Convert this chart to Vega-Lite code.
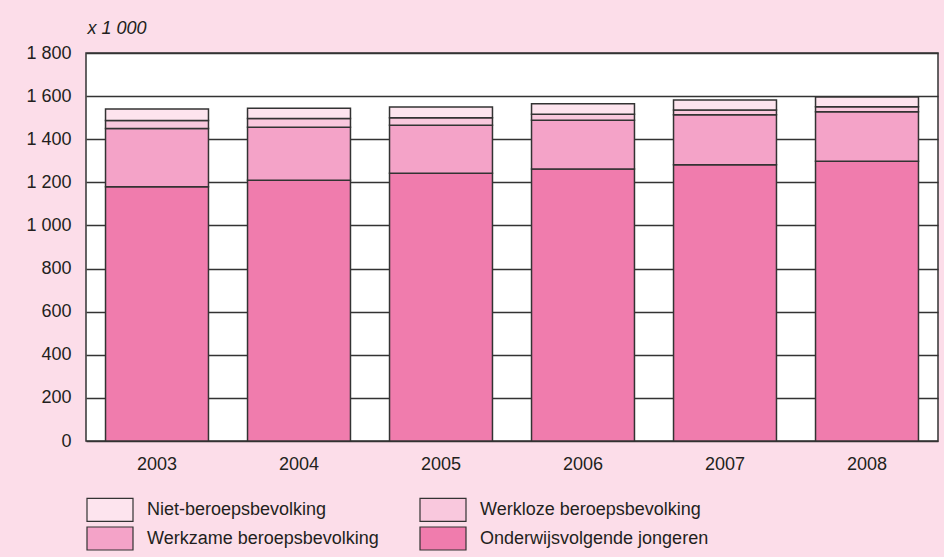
{
  "$schema": "https://vega.github.io/schema/vega-lite/v6.json",
  "autosize": "none",
  "width": 852,
  "height": 388,
  "padding": {"left": 86, "top": 53, "right": 6, "bottom": 116},
  "background": "#fcdde9",
  "config": {
    "font": "Liberation Sans",
    "view": {"fill": "white", "stroke": "#333333", "strokeWidth": 1.5},
    "axis": {"labelColor": "#231f20", "titleColor": "#231f20", "labelFontSize": 18}
  },
  "data": {
    "values": [
      {"jaar": "2003", "positie": "Onderwijsvolgende jongeren", "aantal": 1179},
      {"jaar": "2003", "positie": "Werkzame beroepsbevolking", "aantal": 271},
      {"jaar": "2003", "positie": "Werkloze beroepsbevolking", "aantal": 37},
      {"jaar": "2003", "positie": "Niet-beroepsbevolking", "aantal": 53},
      {"jaar": "2004", "positie": "Onderwijsvolgende jongeren", "aantal": 1210},
      {"jaar": "2004", "positie": "Werkzame beroepsbevolking", "aantal": 246},
      {"jaar": "2004", "positie": "Werkloze beroepsbevolking", "aantal": 40},
      {"jaar": "2004", "positie": "Niet-beroepsbevolking", "aantal": 48},
      {"jaar": "2005", "positie": "Onderwijsvolgende jongeren", "aantal": 1242},
      {"jaar": "2005", "positie": "Werkzame beroepsbevolking", "aantal": 223},
      {"jaar": "2005", "positie": "Werkloze beroepsbevolking", "aantal": 35},
      {"jaar": "2005", "positie": "Niet-beroepsbevolking", "aantal": 50},
      {"jaar": "2006", "positie": "Onderwijsvolgende jongeren", "aantal": 1262},
      {"jaar": "2006", "positie": "Werkzame beroepsbevolking", "aantal": 226},
      {"jaar": "2006", "positie": "Werkloze beroepsbevolking", "aantal": 28},
      {"jaar": "2006", "positie": "Niet-beroepsbevolking", "aantal": 49},
      {"jaar": "2007", "positie": "Onderwijsvolgende jongeren", "aantal": 1282},
      {"jaar": "2007", "positie": "Werkzame beroepsbevolking", "aantal": 231},
      {"jaar": "2007", "positie": "Werkloze beroepsbevolking", "aantal": 23},
      {"jaar": "2007", "positie": "Niet-beroepsbevolking", "aantal": 46},
      {"jaar": "2008", "positie": "Onderwijsvolgende jongeren", "aantal": 1298},
      {"jaar": "2008", "positie": "Werkzame beroepsbevolking", "aantal": 230},
      {"jaar": "2008", "positie": "Werkloze beroepsbevolking", "aantal": 23},
      {"jaar": "2008", "positie": "Niet-beroepsbevolking", "aantal": 45}
    ]
  },
  "transform": [
    {"calculate": "indexof(['Onderwijsvolgende jongeren','Werkzame beroepsbevolking','Werkloze beroepsbevolking','Niet-beroepsbevolking'], datum.positie)", "as": "volgorde"}
  ],
  "mark": {"type": "bar", "stroke": "#333333", "strokeWidth": 1.5},
  "encoding": {
    "x": {
      "field": "jaar", "type": "nominal",
      "scale": {"paddingInner": 0.275, "paddingOuter": 0.1375},
      "axis": {"title": null, "labelAngle": 0, "ticks": false, "domain": false, "labelPadding": 14, "labelFontSize": 18}
    },
    "y": {
      "field": "aantal", "type": "quantitative", "stack": "zero",
      "scale": {"domain": [0, 1800], "nice": false},
      "axis": {
        "values": [0, 200, 400, 600, 800, 1000, 1200, 1400, 1600, 1800],
        "labelExpr": "replace(format(datum.value, ','), ',', ' ')",
        "labelFontSize": 18,
        "ticks": false, "domain": false, "labelPadding": 15,
        "grid": true, "gridColor": "#333333", "gridWidth": 1.3, "gridOpacity": 1,
        "title": "x 1 000", "titleAngle": 0, "titleAlign": "left", "titleBaseline": "middle",
        "titleX": 1, "titleY": -25, "titleFontStyle": "italic", "titleFontWeight": "normal", "titleFontSize": 18
      }
    },
    "color": {
      "field": "positie", "type": "nominal",
      "scale": {
        "domain": ["Niet-beroepsbevolking", "Werkloze beroepsbevolking", "Werkzame beroepsbevolking", "Onderwijsvolgende jongeren"],
        "range": ["#fde4ee", "#f9c8dd", "#f4a3c8", "#f07cad"]
      },
      "legend": {
        "title": null, "orient": "none", "legendX": 11.5, "legendY": 444, "padding": 0,
        "direction": "horizontal",
        "columns": 2, "columnPadding": 38, "rowPadding": 0,
        "symbolType": "M-2,-1H2V1H-2Z", "symbolSize": 529,
        "symbolStrokeColor": "#333333", "symbolStrokeWidth": 1.2, "symbolOpacity": 1,
        "labelFontSize": 18, "labelColor": "#231f20", "labelOffset": 24.5, "labelLimit": 400
      }
    },
    "order": {"field": "volgorde", "type": "quantitative"}
  }
}
